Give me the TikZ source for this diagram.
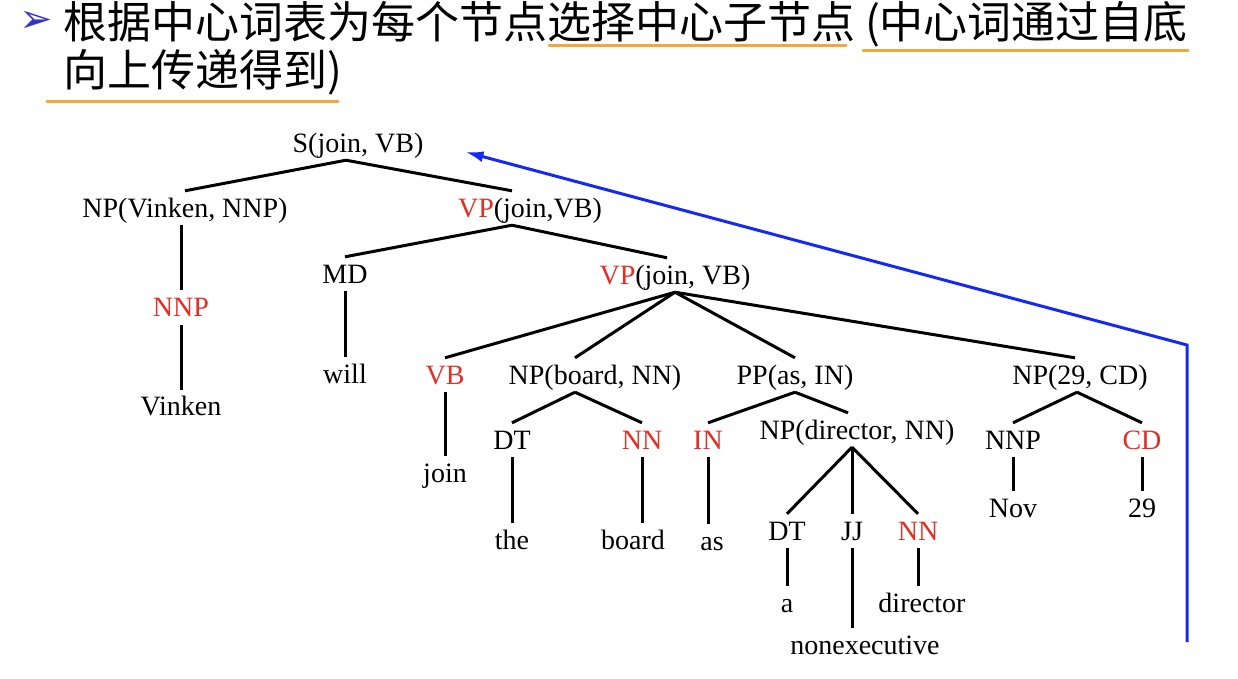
\documentclass[tikz,border=0pt]{standalone}
\usepackage{fontspec}
\setmainfont{Liberation Serif}
\newfontfamily\cjk{Noto Sans CJK SC}
\newfontfamily\dingfont{DejaVu Sans}
\usetikzlibrary{positioning,arrows.meta}
\definecolor{headred}{RGB}{230,45,35}
\definecolor{backblue}{RGB}{20,40,250}
\definecolor{markorange}{RGB}{242,166,60}
\definecolor{bulletblue}{RGB}{50,50,205}
\tikzset{
  tag/.style={inner sep=3pt, font=\fontsize{28}{30}\selectfont, text height=23pt, text depth=5pt},
  branch/.style={line width=3pt},
  markline/.style={markorange, line width=3pt, line cap=round},
  titleline/.style={font=\cjk\fontsize{44}{48}\selectfont, anchor=west, inner sep=0pt},
  backarrow/.style={backblue, line width=3pt, -{Latex[length=18pt,width=11pt]}}
}
\newcommand{\hd}[1]{\textcolor{headred}{#1}}

\begin{document}
\begin{tikzpicture}[x=1pt,y=-1pt]
\useasboundingbox (0,0) rectangle (1238,678);

% title
\node[font=\dingfont\fontsize{40}{42}\selectfont, text=bulletblue, inner sep=0pt] (bullet) at (36,22) {➢};
\node[titleline] (title1) at (63,24) {根据中心词表为每个节点选择中心子节点 (中心词通过自底};
\node[titleline] (title2) at (63,72) {向上传递得到)};
\draw[markline] (549,45) -- (846,45);
\draw[markline] (863,50) -- (1188,50);
\draw[markline] (47,101) -- (338,101);

% phrase nodes
\node[tag] (s) at (358,143) {S(join, VB)};
\node[tag] (npv) at (185,208) {NP(Vinken, NNP)};
\node[tag] (vpa) at (530,208) {\hd{VP}(join,VB)};
\node[tag] (nnp) [below=65pt of npv, xshift=-4pt] {\hd{NNP}};
\node[tag] (md) at (345,274) {MD};
\node[tag] (vpb) at (675,275) {\hd{VP}(join, VB)};
\node[tag] (vb) at (445,375) {\hd{VB}};
\node[tag] (npb) at (595,375) {NP(board, NN)};
\node[tag] (pp) at (795,375) {PP(as, IN)};
\node[tag] (np29) at (1080,375) {NP(29, CD)};
\node[tag] (dta) at (512,440) {DT};
\node[tag] (nna) at (642,440) {\hd{NN}};
\node[tag] (in) at (708,440) {\hd{IN}};
\node[tag] (npd) at (857,430) {NP(director, NN)};
\node[tag] (nnpb) at (1013,440) {NNP};
\node[tag] (cd) at (1142,440) {\hd{CD}};
\node[tag] (dtb) at (787,531) {DT};
\node[tag] (jj) at (852,531) {JJ};
\node[tag] (nnb) at (918,531) {\hd{NN}};

% words
\node[tag] (vinken) [below=65pt of nnp] {Vinken};
\node[tag] (will) [below=66pt of md] {will};
\node[tag] (join) [below=64pt of vb] {join};
\node[tag] (the) [below=66pt of dta] {the};
\node[tag] (board) [below=66pt of nna, xshift=-9pt] {board};
\node[tag] (as) [below=67pt of in, xshift=4pt] {as};
\node[tag] (a) [below=38pt of dtb] {a};
\node[tag] (nonexec) [below=80pt of jj, xshift=13pt] {nonexecutive};
\node[tag] (director) [below=38pt of nnb, xshift=4pt] {director};
\node[tag] (nov) [below=34pt of nnpb] {Nov};
\node[tag] (twentynine) [below=34pt of cd] {29};

\path[branch]
  ([xshift=-12pt]s.south) edge (npv.north)
                          edge ([xshift=-18pt]vpa.north)
  (npv.south -| nnp) edge (nnp.north)
  (nnp.south) edge (vinken.north)
  ([xshift=-18pt]vpa.south) edge (md.north)
                            edge ([xshift=-8pt]vpb.north)
  (md.south) edge (will.north)
  (vpb.south) edge (vb.north)
              edge ([xshift=-20pt]npb.north)
              edge (pp.north)
              edge ([xshift=-5pt]np29.north)
  (vb.south) edge (join.north)
  ([xshift=-20pt]npb.south) edge (dta.north)
                            edge (nna.north)
  (dta.south) edge (the.north)
  (nna.south) edge (nna.south |- board.north)
  (pp.south) edge (in.north)
             edge ([xshift=-9pt]npd.north)
  (in.south) edge (in.south |- as.north)
  ([xshift=-5pt]npd.south) edge (dtb.north)
                           edge (jj.north)
                           edge (nnb.north)
  (dtb.south) edge (dtb.south |- a.north)
  (jj.south) edge (jj.south |- nonexec.north)
  (nnb.south) edge (nnb.south |- director.north)
  ([xshift=-3pt]np29.south) edge (nnpb.north)
                            edge (cd.north)
  (nnpb.south) edge (nov.north)
  (cd.south) edge (twentynine.north)
;

% head passed back up
\coordinate (tail) at (1187,642);
\coordinate (corner) at (1187,345);
\draw[backarrow] (tail) -- (corner) -- ([shift={(39pt,-9pt)}]s.east);
\end{tikzpicture}
\end{document}
